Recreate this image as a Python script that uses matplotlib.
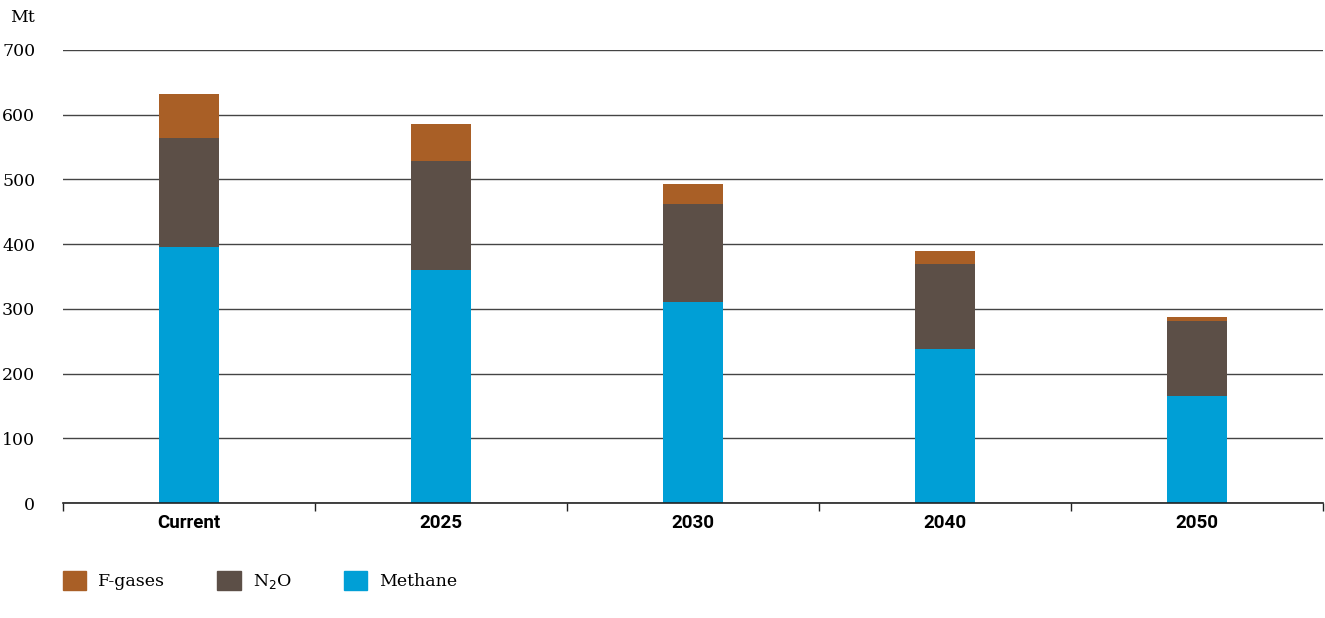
import matplotlib.pyplot as plt
from matplotlib.patches import Patch
import numpy as np

# Datos (Mt)
categorias = ['Current', '2025', '2030', '2040', '2050']
metano = [396, 360, 311, 238, 165]
n2o = [168, 169, 151, 131, 116]
f_gases = [68, 56, 31, 20, 6]

col_metano = '#009FD6'
col_n2o = '#5C4F47'
col_f = '#A95F26'

fig = plt.figure(figsize=(13.25, 6.18), dpi=100)
ax = fig.add_axes([63 / 1325, 1 - 503 / 618, 1260 / 1325, 453 / 618])

x = np.arange(len(categorias))
base2 = np.array(metano)
base3 = base2 + np.array(n2o)
ax.bar(x, metano, width=0.24, color=col_metano, zorder=3)
ax.bar(x, n2o, width=0.24, bottom=base2, color=col_n2o, zorder=3)
ax.bar(x, f_gases, width=0.24, bottom=base3, color=col_f, zorder=3)

ax.set_xlim(-0.5, len(categorias) - 0.5)
ax.set_ylim(0, 700)
ax.set_yticks(range(0, 701, 100))
ax.grid(axis='y', color='#444444', linewidth=1, zorder=0)
for s in ['top', 'right', 'left']:
    ax.spines[s].set_visible(False)
ax.spines['bottom'].set_color('#222222')
ax.spines['bottom'].set_linewidth(1.2)
ax.spines['bottom'].set_zorder(4)

ax.set_xticks(x)
ax.set_xticklabels(categorias, fontfamily='Roboto', fontweight='bold', fontsize=13.5)
ax.tick_params(axis='x', which='major', length=0, pad=8)
ax.set_xticks(np.arange(-0.5, len(categorias), 1), minor=True)
ax.tick_params(axis='x', which='minor', length=6, width=1, color='#222222')
ax.tick_params(axis='y', length=0, pad=20, labelsize=12.5)
for t in ax.get_yticklabels():
    t.set_fontfamily('DejaVu Serif')

fig.text(10 / 1325, 1 - 18 / 618, 'Mt', fontsize=12.5, fontfamily='DejaVu Serif', va='center')

handles = [Patch(color=col_f), Patch(color=col_n2o), Patch(color=col_metano)]
labels = ['F-gases', 'N$_2$O', 'Methane']
fig.legend(handles, labels, ncol=3, loc='center left', bbox_to_anchor=(47 / 1325, 1 - 581 / 618),
           frameon=False, prop={'family': 'DejaVu Serif', 'size': 12.5},
           handlelength=1.35, handleheight=1.35, handletextpad=0.7, columnspacing=3.0)

fig.savefig('out.png', dpi=100)
